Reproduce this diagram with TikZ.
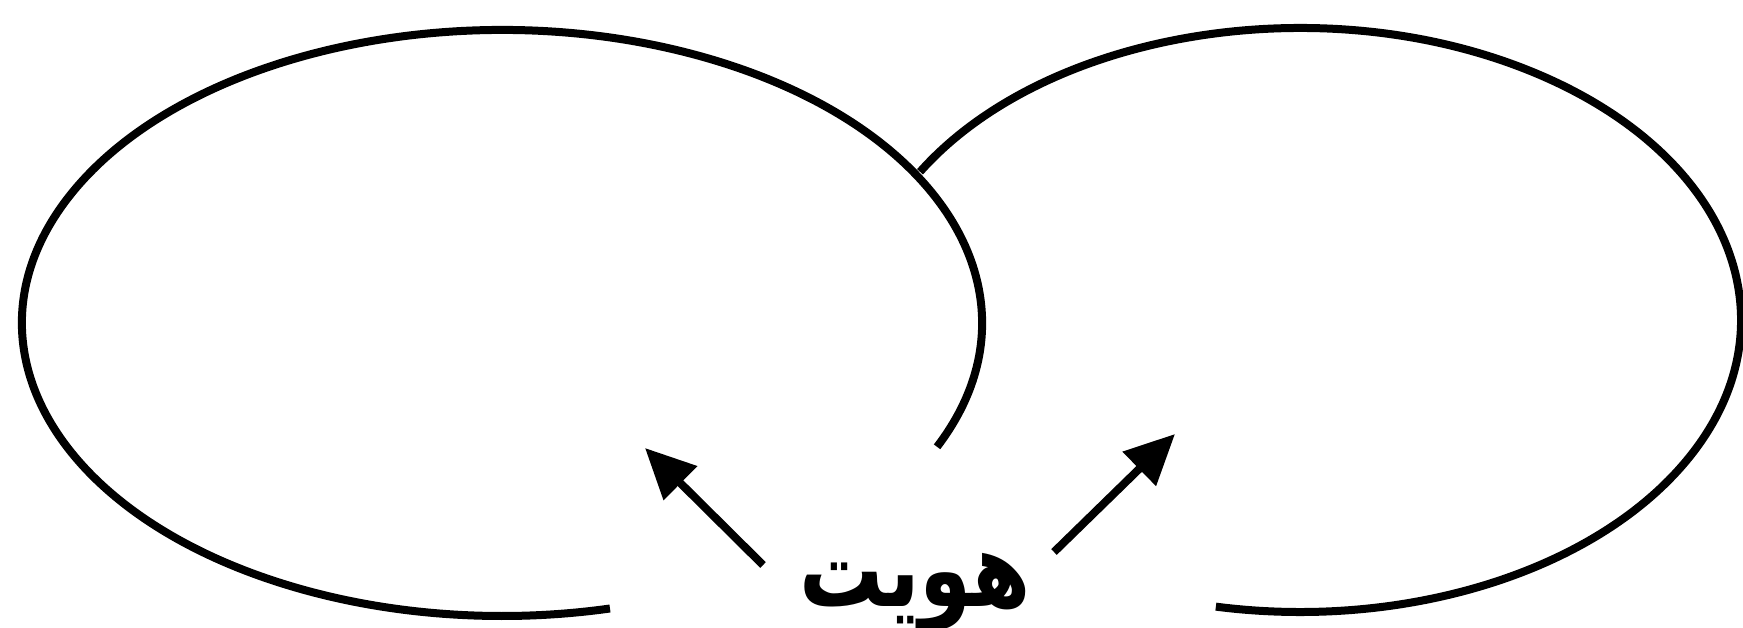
\documentclass[tikz,border=0pt]{standalone}
\usepackage{fontspec}
\usetikzlibrary{arrows.meta}
\TeXXeTstate=1
\newfontfamily\arabicfont[Script=Arabic]{DejaVu Sans}
\tikzset{
  loopline/.style={line width=8pt, black},
  idarrow/.style={line width=8pt, black, -{Triangle[length=50pt, width=46pt]}},
  label/.style={font=\arabicfont\bfseries\fontsize{84}{90}\selectfont, inner sep=0pt, anchor=base, yscale=1.25, transform shape}
}
\begin{document}
\begin{tikzpicture}[x=1pt,y=1pt]
\useasboundingbox (0,0) rectangle (1743,-628);
% left ellipse (open at lower right)
\draw[loopline] ([shift={(-25:480pt and 293pt)}]502,-323) arc[start angle=-25, end angle=283, x radius=480pt, y radius=293pt];
% right ellipse (meets the left one, open at lower left)
\draw[loopline] ([shift={(149.5:441pt and 292pt)}]1300,-320) arc[start angle=149.5, end angle=-101, x radius=441pt, y radius=292pt];
% label
\node[label] (t) at (915,-606) {\beginR هويت\endR};
\coordinate (lstart) at (763,-565);
\coordinate (ltip) at (645,-448);
\coordinate (rstart) at (1054,-552);
\coordinate (rtip) at (1175,-434);
\draw[idarrow] (lstart) -- (ltip);
\draw[idarrow] (rstart) -- (rtip);
\end{tikzpicture}
\end{document}
